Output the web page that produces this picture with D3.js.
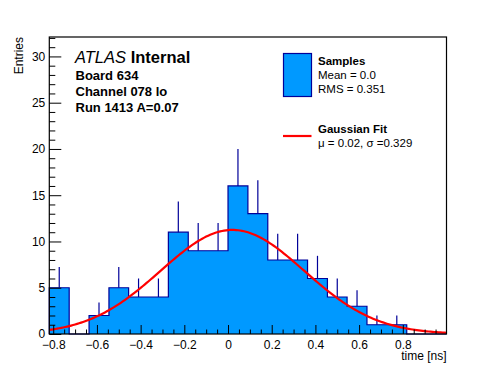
<!DOCTYPE html>
<html>
<head>
<meta charset="utf-8">
<script src="https://cdn.jsdelivr.net/npm/d3@7"></script>
<style>
  body { margin: 0; background: #fff; }
  text { font-family: "Liberation Sans", Arial, Helvetica, sans-serif; }
</style>
</head>
<body>
<div id="chart"></div>
<script>
// Histogram bins (time in ns) and their counts
const binEdges = [-0.818, -0.727, -0.636, -0.545, -0.455, -0.364, -0.273, -0.182, -0.091, 0,
                  0.091, 0.182, 0.273, 0.364, 0.455, 0.545, 0.636, 0.727, 0.818, 0.909, 1.0];
const counts = [5, 0, 2, 5, 4, 4, 11, 9, 9, 16, 13, 8, 8, 6, 4, 3, 1, 1, 0, 0];

// Gaussian fit parameters
const fitAmp = 11.25;
const fitMean = 0.02;
const fitSigma = 0.329;

// Axis ticks
const xMajor = [-0.8, -0.6, -0.4, -0.2, 0, 0.2, 0.4, 0.6, 0.8];
const xMinor = [-0.75, -0.7, -0.65, -0.55, -0.5, -0.45, -0.35, -0.3, -0.25, -0.15, -0.1, -0.05,
                0.05, 0.1, 0.15, 0.25, 0.3, 0.35, 0.45, 0.5, 0.55, 0.65, 0.7, 0.75, 0.85, 0.9, 0.95];
const yMajor = [0, 5, 10, 15, 20, 25, 30];
const yMinor = d3.range(0, 33).filter(v => v % 5 !== 0);

// Text blocks
const labelLines = ["Board 634", "Channel 078 lo", "Run 1413 A=0.07"];

function draw(container) {
  const width = 496;
  const height = 372;
  const margin = ({top: 37, right: 49.5, bottom: 38, left: 49.3});

  const x = d3.scaleLinear()
    .domain([binEdges[0], binEdges[binEdges.length - 1]])
    .range([margin.left, width - margin.right]);

  const y = d3.scaleLinear()
    .domain([0, 32.1])
    .range([height - margin.bottom, margin.top]);

  const svg = d3.select(container).append("svg")
    .attr("width", width)
    .attr("height", height);

  svg.append("rect").attr("width", width).attr("height", height).attr("fill", "#fff");

  /* **************************************
   * Histogram
   **************************************** */
  const bins = counts.map((c, i) => ({x0: binEdges[i], x1: binEdges[i + 1], n: c}));

  // stepped outline points
  const steps = [];
  steps.push([x(bins[0].x0), y(0)]);
  for (const b of bins) {
    steps.push([x(b.x0), y(b.n)]);
    steps.push([x(b.x1), y(b.n)]);
  }
  steps.push([x(bins[bins.length - 1].x1), y(0)]);

  // fill as one shape (no seams between bins)
  svg.append("path")
    .attr("d", d3.line()(steps) + "Z")
    .attr("fill", "#0099ff")
    .attr("stroke", "none");

  svg.append("path")
    .attr("d", d3.line()(steps))
    .attr("fill", "none")
    .attr("stroke", "#000099")
    .attr("stroke-width", 1.2);

  // error bars (upper half)
  svg.append("g")
    .selectAll("line")
    .data(bins.filter(d => d.n > 0))
    .join("line")
      .attr("x1", d => x((d.x0 + d.x1) / 2))
      .attr("x2", d => x((d.x0 + d.x1) / 2))
      .attr("y1", d => y(d.n))
      .attr("y2", d => y(d.n + Math.sqrt(d.n)))
      .attr("stroke", "#000099")
      .attr("stroke-width", 1.2);

  /* **************************************
   * Gaussian fit
   **************************************** */
  const gauss = t => fitAmp * Math.exp(-((t - fitMean) ** 2) / (2 * fitSigma * fitSigma));
  const xs = d3.range(0, 201).map(i => binEdges[0] + i * (binEdges[binEdges.length - 1] - binEdges[0]) / 200);
  svg.append("path")
    .attr("d", d3.line().x(t => x(t)).y(t => y(gauss(t)))(xs))
    .attr("fill", "none")
    .attr("stroke", "#ff0000")
    .attr("stroke-width", 2.2);

  /* **************************************
   * Axes and frame
   **************************************** */
  svg.append("rect")
    .attr("x", x.range()[0]).attr("y", y.range()[1])
    .attr("width", x.range()[1] - x.range()[0])
    .attr("height", y.range()[0] - y.range()[1])
    .attr("fill", "none").attr("stroke", "#000").attr("stroke-width", 1.2);

  const fmt = d => Math.abs(d) < 1e-9 ? "0" : d3.format(".1f")(d);

  svg.append("g")
    .attr("transform", `translate(0,${y(0)})`)
    .call(d3.axisBottom(x).tickValues(xMajor).tickSize(-9).tickPadding(6).tickFormat(fmt))
    .call(g => g.select(".domain").remove())
    .call(g => g.selectAll("text").attr("font-size", 12).attr("fill", "#000"));
  svg.append("g")
    .attr("transform", `translate(0,${y(0)})`)
    .call(d3.axisBottom(x).tickValues(xMinor).tickSize(-4.5).tickFormat(""))
    .call(g => g.select(".domain").remove());

  svg.append("g")
    .attr("transform", `translate(${x.range()[0]},0)`)
    .call(d3.axisLeft(y).tickValues(yMajor).tickSize(-12).tickPadding(4).tickFormat(d3.format("d")))
    .call(g => g.select(".domain").remove())
    .call(g => g.selectAll("text").attr("font-size", 12).attr("fill", "#000"));
  svg.append("g")
    .attr("transform", `translate(${x.range()[0]},0)`)
    .call(d3.axisLeft(y).tickValues(yMinor).tickSize(-6).tickFormat(""))
    .call(g => g.select(".domain").remove());

  svg.append("text")
    .attr("x", x.range()[1]).attr("y", 360)
    .attr("text-anchor", "end").attr("font-size", 12)
    .text("time [ns]");

  svg.append("text")
    .attr("transform", `translate(23,${y.range()[1]}) rotate(-90)`)
    .attr("text-anchor", "end").attr("font-size", 12)
    .text("Entries");

  /* **************************************
   * Labels
   **************************************** */
  const lab = svg.append("text").attr("x", 75).attr("y", 63).attr("font-size", 16.5);
  lab.append("tspan").attr("font-style", "italic").text("ATLAS");
  lab.append("tspan").attr("font-weight", "bold").text(" Internal");

  svg.append("g").selectAll("text")
    .data(labelLines)
    .join("text")
      .attr("x", 75.5)
      .attr("y", (d, i) => 80 + i * 16.2)
      .attr("font-size", 13)
      .attr("font-weight", "bold")
      .text(d => d);

  /* **************************************
   * Legend
   **************************************** */
  const leg = svg.append("g");
  leg.append("rect")
    .attr("x", 283.5).attr("y", 53.5).attr("width", 28).attr("height", 43)
    .attr("fill", "#0099ff").attr("stroke", "#000099").attr("stroke-width", 1.2);
  leg.append("text").attr("x", 318).attr("y", 65).attr("font-size", 11.5).attr("font-weight", "bold").text("Samples");
  leg.append("text").attr("x", 318).attr("y", 79.3).attr("font-size", 11.5).text("Mean = 0.0");
  leg.append("text").attr("x", 318).attr("y", 93.3).attr("font-size", 11.5).text("RMS = 0.351");

  leg.append("line")
    .attr("x1", 283).attr("x2", 311.5).attr("y1", 136).attr("y2", 136)
    .attr("stroke", "#ff0000").attr("stroke-width", 2.2);
  leg.append("text").attr("x", 318).attr("y", 132.5).attr("font-size", 11.5).attr("font-weight", "bold").text("Gaussian Fit");
  leg.append("text").attr("x", 318).attr("y", 146.5).attr("font-size", 11.5).text("\u03bc = 0.02, \u03c3 =0.329");

  return svg.node();
}

draw("#chart");
</script>
</body>
</html>
